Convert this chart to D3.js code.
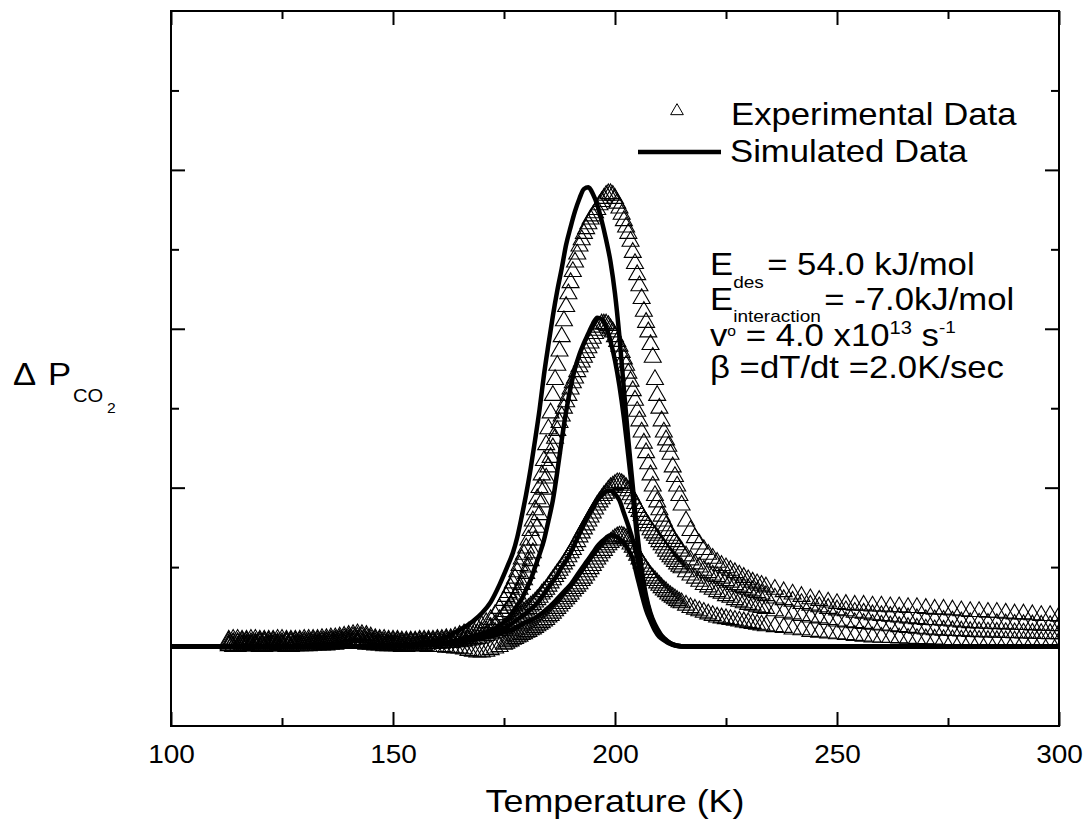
<!DOCTYPE html>
<html><head><meta charset="utf-8">
<script src="https://cdn.jsdelivr.net/npm/d3@7"></script>
<style>body{margin:0;background:#fff} svg{display:block} text{font-family:"Liberation Sans", Arial, Helvetica, sans-serif; fill:#000}</style>
</head><body><svg id="c" width="1086" height="824"></svg>
<script>
// ---------- data ----------
const xMajorTicks = [100,150,200,250,300];
const xMinorTicks = [125,175,225,275];
const yMajorTicks = [0,1,2,3];
const yMinorTicks = [0.5,1.5,2.5,3.5];

// temperatures of the experimental samples (K)
const expTemps = [113,114,115,116,117,118,119,120,121,122,123,124,125,126,127,128,129,130,131,132,
133,134,135,136,137,138,139,140,141,142,143,144,145,146,147,148,149,150,151,152,
153,154,155,156,157,158,159,160,161,162,163,164,
165,166,167,168,169,170,171,172,173,174,
175,175.5,176,176.5,177,177.5,178,178.5,179,179.5,180,180.5,181,181.5,182,182.5,183,183.5,184,184.5,
185,185.5,186,186.5,187,187.5,188,188.5,189,189.5,190,190.5,191,191.5,192,192.5,193,193.5,194,194.5,
195,195.5,196,196.5,197,197.5,198,198.5,199,199.5,200,200.5,201,201.5,202,202.5,203,203.5,204,204.5,
205,205.5,206,206.5,207,207.5,208,208.5,209,209.5,210,210.5,211,211.5,212,212.5,213,213.5,214,214.5,
215,216,217,218,219,220,221,222,223,224,225,226,227,228,229,230,231,232,233,234,
236,238,240,242,244,246,248,250,252,254,256,258,260,262,264,266,268,270,272,274,276,278,280,282,284,286,288,290,292,294,296,298,300];

const exp1 = [0.04,0.045,0.045,0.04,0.04,0.045,0.045,0.04,0.04,0.04,
0.04,0.045,0.045,0.04,0.04,0.04,0.04,0.045,0.045,0.045,
0.045,0.05,0.05,0.055,0.055,0.06,0.065,0.07,0.075,0.08,
0.075,0.07,0.06,0.05,0.045,0.045,0.04,0.04,0.04,0.035,
0.035,0.035,0.035,0.04,0.04,0.04,0.04,0.045,0.045,0.05,
0.05,0.06,
0.07,0.08,0.09,0.10,0.115,0.13,0.15,0.17,0.20,0.24,
0.29,0.315,0.34,0.37,0.40,0.43,0.47,0.51,0.55,0.58,
0.62,0.67,0.73,0.79,0.86,0.93,1.00,1.08,1.17,1.27,
1.37,1.47,1.58,1.68,1.77,1.86,1.95,2.05,2.14,2.22,
2.29,2.36,2.42,2.47,2.52,2.56,2.60,2.63,2.66,2.69,
2.71,2.73,2.75,2.78,2.80,2.82,2.84,2.85,2.85,2.84,
2.82,2.79,2.76,2.72,2.68,2.64,2.60,2.55,2.48,2.41,
2.34,2.27,2.19,2.11,2.04,1.98,1.90,1.82,1.68,1.58,
1.50,1.42,1.35,1.30,1.26,1.21,1.13,1.07,1.01,0.95,
0.89,0.79,0.73,0.685,0.645,0.61,0.58,0.555,0.53,0.51,0.495,0.48,0.465,0.45,0.435,0.42,0.405,0.395,0.385,0.375,
0.36,0.345,0.33,0.315,0.30,0.29,0.28,0.27,0.265,0.26,0.26,0.255,0.255,0.25,0.25,0.245,0.245,0.24,0.235,0.235,0.23,0.225,0.22,0.22,0.215,0.215,0.21,0.205,0.205,0.20,0.195,0.195,0.19];

const exp2 = [0.03,0.025,0.025,0.03,0.03,0.025,0.025,0.03,0.03,0.03,
0.03,0.025,0.025,0.03,0.03,0.03,0.03,0.03,0.03,0.035,
0.035,0.035,0.035,0.04,0.04,0.045,0.05,0.055,0.06,0.06,
0.06,0.055,0.045,0.04,0.035,0.03,0.03,0.03,0.03,0.025,
0.025,0.03,0.03,0.03,0.03,0.03,0.03,0.035,0.035,0.04,
0.04,0.04,
0.045,0.05,0.06,0.07,0.08,0.09,0.10,0.12,0.14,0.17,
0.20,0.22,0.24,0.26,0.28,0.305,0.33,0.36,0.39,0.42,
0.46,0.50,0.54,0.59,0.67,0.75,0.83,0.91,0.99,1.06,
1.13,1.19,1.25,1.31,1.36,1.41,1.45,1.50,1.54,1.58,
1.62,1.66,1.69,1.73,1.76,1.79,1.82,1.85,1.88,1.91,
1.94,1.97,1.99,2.01,2.03,2.03,2.03,2.02,2.00,1.98,
1.95,1.92,1.89,1.85,1.81,1.77,1.72,1.67,1.61,1.55,
1.48,1.42,1.35,1.28,1.22,1.15,1.08,1.01,0.95,0.91,
0.86,0.82,0.79,0.76,0.73,0.70,0.68,0.66,0.64,0.62,
0.60,0.57,0.545,0.52,0.50,0.48,0.465,0.45,0.44,0.43,0.415,0.405,0.39,0.38,0.37,0.36,0.35,0.34,0.33,0.32,
0.305,0.295,0.285,0.27,0.26,0.25,0.24,0.23,0.225,0.215,0.21,0.20,0.195,0.19,0.185,0.18,0.175,0.17,0.168,0.165,0.16,0.155,0.15,0.148,0.146,0.144,0.142,0.14,0.138,0.136,0.134,0.132,0.13];

const exp3 = [0.015,0.02,0.02,0.015,0.015,0.015,0.015,0.02,0.02,0.015,
0.015,0.015,0.015,0.02,0.02,0.015,0.015,0.02,0.02,0.02,
0.02,0.025,0.025,0.03,0.03,0.035,0.035,0.04,0.04,0.04,
0.04,0.035,0.03,0.025,0.02,0.02,0.015,0.015,0.015,0.015,
0.015,0.02,0.02,0.015,0.015,0.02,0.02,0.02,0.02,0.025,
0.025,0.03,
0.03,0.035,0.04,0.045,0.05,0.06,0.07,0.08,0.09,0.10,
0.115,0.125,0.135,0.145,0.155,0.165,0.18,0.19,0.205,0.215,
0.23,0.24,0.255,0.265,0.28,0.295,0.31,0.33,0.345,0.36,
0.38,0.40,0.42,0.44,0.46,0.48,0.50,0.52,0.54,0.565,
0.59,0.61,0.635,0.66,0.69,0.715,0.74,0.765,0.79,0.815,
0.84,0.865,0.89,0.91,0.93,0.95,0.965,0.985,1.00,1.01,
1.02,1.03,1.03,1.025,1.015,1.00,0.98,0.955,0.93,0.90,
0.875,0.85,0.825,0.80,0.78,0.76,0.735,0.715,0.70,0.68,
0.66,0.64,0.62,0.60,0.58,0.565,0.55,0.535,0.52,0.505,
0.495,0.47,0.45,0.43,0.41,0.39,0.375,0.36,0.345,0.335,0.32,0.31,0.295,0.285,0.275,0.265,0.26,0.25,0.245,0.24,
0.225,0.215,0.205,0.195,0.185,0.18,0.17,0.16,0.155,0.15,0.145,0.14,0.135,0.13,0.125,0.12,0.115,0.11,0.105,0.103,0.10,0.098,0.095,0.093,0.091,0.09,0.088,0.086,0.085,0.084,0.082,0.081,0.08];

const exp4 = [0.005,0.0,0.0,0.005,0.005,0.005,0.005,0.0,0.0,0.005,
0.005,0.005,0.005,0.0,0.0,0.005,0.005,0.005,0.005,0.01,
0.01,0.01,0.01,0.015,0.015,0.02,0.02,0.025,0.025,0.02,
0.02,0.015,0.015,0.01,0.01,0.005,0.005,0.005,0.005,0.0,
0.0,0.005,0.005,0.005,0.005,0.0,0.0,0.0,0.0,-0.005,
-0.005,-0.01,
-0.01,-0.015,-0.025,-0.03,-0.035,-0.035,-0.03,-0.02,-0.01,0.0,
0.015,0.02,0.03,0.035,0.045,0.05,0.06,0.065,0.075,0.08,
0.09,0.095,0.105,0.11,0.12,0.13,0.14,0.15,0.16,0.17,
0.185,0.195,0.21,0.225,0.24,0.255,0.27,0.285,0.30,0.315,
0.33,0.35,0.365,0.38,0.395,0.415,0.43,0.45,0.47,0.49,
0.51,0.53,0.55,0.57,0.59,0.605,0.625,0.64,0.655,0.67,
0.68,0.69,0.695,0.695,0.69,0.68,0.665,0.645,0.625,0.60,
0.575,0.55,0.525,0.505,0.485,0.465,0.445,0.43,0.415,0.40,
0.385,0.37,0.355,0.345,0.33,0.32,0.31,0.30,0.29,0.28,
0.275,0.26,0.245,0.235,0.225,0.215,0.205,0.195,0.185,0.18,0.175,0.17,0.165,0.16,0.155,0.15,0.145,0.14,0.135,0.13,
0.125,0.12,0.11,0.105,0.095,0.09,0.085,0.08,0.075,0.07,0.065,0.06,0.058,0.056,0.054,0.052,0.05,0.048,0.046,0.044,0.042,0.041,0.04,0.039,0.038,0.037,0.036,0.035,0.034,0.033,0.032,0.031,0.03];

// temperatures of the simulated curves (K)
const simTemps = [100,140,150,155,160,162,164,166,168,170,172,174,
176,177,178,179,180,181,182,183,184,185,186,187,188,189,190,191,192,193,194,195,196,197,198,199,200,201,202,203,204,205,206,207,208,209,210,211,212,
214,216,220,300];

const sim1 = [0,0,0.005,0.015,0.04,0.06,0.09,0.12,0.16,0.21,0.28,0.39,
0.52,0.59,0.69,0.82,0.96,1.12,1.30,1.49,1.71,1.90,2.08,2.24,2.38,2.53,2.64,2.74,2.82,2.88,2.89,2.85,2.78,2.68,2.56,2.42,2.22,1.95,1.62,1.30,1.01,0.72,0.49,0.32,0.21,0.14,0.09,0.05,0.03,
0.005,0,0,0];
const sim2 = [0,0,0.003,0.01,0.018,0.024,0.035,0.05,0.065,0.08,0.10,0.13,
0.18,0.22,0.26,0.30,0.36,0.42,0.50,0.58,0.67,0.79,0.92,1.10,1.30,1.48,1.63,1.75,1.84,1.91,1.97,2.03,2.07,2.06,2.01,1.92,1.80,1.64,1.44,1.20,0.95,0.68,0.45,0.29,0.19,0.12,0.075,0.045,0.025,
0.005,0,0,0];
const sim3 = [0,0,0.003,0.008,0.018,0.022,0.028,0.036,0.045,0.06,0.08,0.10,
0.13,0.15,0.17,0.19,0.21,0.235,0.26,0.29,0.33,0.37,0.41,0.45,0.50,0.54,0.59,0.65,0.71,0.77,0.82,0.87,0.92,0.95,0.975,0.98,0.96,0.92,0.84,0.76,0.67,0.56,0.41,0.30,0.20,0.13,0.08,0.055,0.03,
0.005,0,0,0];
const sim4 = [0,0,0.003,0.008,0.015,0.02,0.026,0.033,0.042,0.052,0.063,0.08,
0.10,0.11,0.125,0.14,0.155,0.165,0.18,0.20,0.22,0.245,0.27,0.30,0.33,0.36,0.39,0.43,0.47,0.51,0.55,0.59,0.63,0.66,0.685,0.70,0.695,0.68,0.65,0.61,0.55,0.44,0.33,0.23,0.16,0.10,0.06,0.04,0.022,
0.004,0,0,0];

const legendLabels = ["Experimental Data","Simulated Data"];

// ---------- layout ----------
const M = {l:171, r:1059, t:11, b:726};
const SX = 1.12; // horizontal stretch of the original lettering
const x = d3.scaleLinear().domain([100,300]).range([M.l, M.r]);
const y = d3.scaleLinear().domain([-0.5,4.0]).range([M.b, M.t]);

const svg = d3.select("#c");
svg.append("rect").attr("width",1086).attr("height",824).attr("fill","#fff");
svg.append("defs").append("clipPath").attr("id","clip").append("rect")
  .attr("x",M.l).attr("y",M.t).attr("width",M.r-M.l).attr("height",M.b-M.t);
const plot = svg.append("g").attr("clip-path","url(#clip)");

// experimental triangles
const tri = d3.symbol().type(d3.symbolTriangle).size(125);
[exp1,exp2,exp3,exp4].forEach(vals => {
  plot.append("g").selectAll("path")
    .data(expTemps.map((t,i) => [t, vals[i]]).filter(d => d[1] !== undefined))
    .join("path")
    .attr("d", tri)
    .attr("transform", d => `translate(${x(d[0])},${y(d[1])})`)
    .attr("fill","none").attr("stroke","#000").attr("stroke-width",1.1);
});

// simulated curves
const line = d3.line().x(d => x(d[0])).y(d => y(d[1])).curve(d3.curveMonotoneX);
[sim1,sim2,sim3,sim4].forEach(vals => {
  plot.append("path").datum(simTemps.map((t,i) => [t, vals[i]]))
    .attr("d", line).attr("fill","none").attr("stroke","#000")
    .attr("stroke-width",4.5).attr("stroke-linejoin","round").attr("stroke-linecap","round");
});

// axes (ticks inward)
function tickAxis(axisFn, scale, vals, len, transform) {
  const g = svg.append("g").attr("transform", transform)
    .call(axisFn(scale).tickValues(vals).tickSizeInner(-len).tickSizeOuter(0).tickFormat(""));
  g.select(".domain").remove();
  g.selectAll("line").attr("stroke","#000").attr("stroke-width",2);
  return g;
}
tickAxis(d3.axisBottom, x, xMinorTicks, 8, `translate(0,${M.b})`);
tickAxis(d3.axisTop, x, xMinorTicks, 8, `translate(0,${M.t})`);
tickAxis(d3.axisTop, x, xMajorTicks, 14, `translate(0,${M.t})`);
tickAxis(d3.axisLeft, y, yMinorTicks, 8, `translate(${M.l},0)`);
tickAxis(d3.axisLeft, y, yMajorTicks, 14, `translate(${M.l},0)`);
tickAxis(d3.axisRight, y, yMinorTicks, 8, `translate(${M.r},0)`);
tickAxis(d3.axisRight, y, yMajorTicks, 14, `translate(${M.r},0)`);
const gxb = svg.append("g").attr("transform",`translate(0,${M.b})`)
  .call(d3.axisBottom(x).tickValues(xMajorTicks).tickSizeInner(-14).tickSizeOuter(0).tickPadding(19).tickFormat(d3.format("d")));
gxb.select(".domain").remove();
gxb.selectAll("line").attr("stroke","#000").attr("stroke-width",2);
gxb.selectAll("text").attr("font-size",25).attr("fill","#000")
  .attr("font-family",'"Liberation Sans", Arial, sans-serif')
  .attr("transform",`scale(${SX},1)`);

// frame
svg.append("rect").attr("x",M.l).attr("y",M.t).attr("width",M.r-M.l).attr("height",M.b-M.t)
  .attr("fill","none").attr("stroke","#000").attr("stroke-width",2);

// text helper
function stext(px, py, size, anchor) {
  return svg.append("text").attr("transform",`translate(${px},${py}) scale(${SX},1)`)
    .attr("font-size",size).attr("text-anchor",anchor || "start");
}

// axis titles
stext(615, 812, 32, "middle").text("Temperature (K)");
stext(13, 385, 31).text("\u0394");
stext(48, 385, 31).text("P");
stext(73, 402, 18).text("CO");
stext(107, 413, 14).text("2");

// legend
svg.append("path").attr("d", d3.symbol().type(d3.symbolTriangle).size(70))
  .attr("transform","translate(677,111)").attr("fill","none").attr("stroke","#000").attr("stroke-width",1);
stext(731, 125, 31).text(legendLabels[0]);
svg.append("line").attr("x1",638).attr("x2",721).attr("y1",152).attr("y2",152)
  .attr("stroke","#000").attr("stroke-width",4.5);
stext(730, 162, 31).text(legendLabels[1]);

// annotation
let t = stext(710, 275, 31);
t.append("tspan").text("E");
t.append("tspan").attr("font-size",17).attr("dy",13).text("des");
t.append("tspan").attr("dy",-13).attr("dx",3).text("= 54.0 kJ/mol");

t = stext(710, 310, 31);
t.append("tspan").text("E");
t.append("tspan").attr("font-size",17).attr("dy",12).text("interaction");
t.append("tspan").attr("dy",-12).attr("dx",3).text("= -7.0kJ/mol");

t = stext(710, 346, 31);
t.append("tspan").text("v");
t.append("tspan").attr("font-size",14).attr("dy",-10).text("o");
t.append("tspan").attr("dy",10).text(" = 4.0 x10");
t.append("tspan").attr("font-size",18).attr("dy",-12).text("13");
t.append("tspan").attr("dy",12).text(" s");
t.append("tspan").attr("font-size",17).attr("dy",-13).text("-1");

stext(710, 378, 31).text("\u03B2 =dT/dt =2.0K/sec");
</script>
</body></html>
